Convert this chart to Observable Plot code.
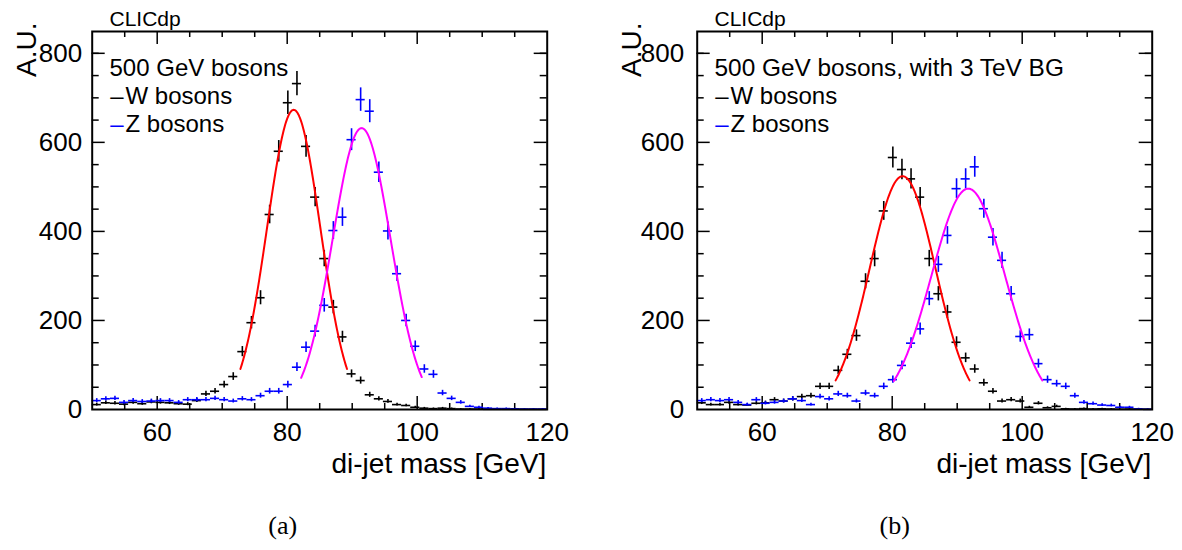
<!DOCTYPE html>
<html><head><meta charset="utf-8">
<script src="https://cdn.jsdelivr.net/npm/d3@7"></script>
<script src="https://cdn.jsdelivr.net/npm/@observablehq/plot@0.6"></script>
<style>
body{margin:0;background:#fff;}
#wrap{display:flex;width:1182px;height:550px;overflow:hidden;}
#wrap svg{display:block;}
</style></head><body><div id="wrap"></div>
<script>
// bin centres (GeV), bin width 1.4 GeV
const binCenters = [50.7,52.1,53.5,54.9,56.3,57.7,59.1,60.5,61.9,63.3,64.7,66.1,67.5,68.9,70.3,71.7,73.1,74.5,75.9,77.3,
  78.7,80.1,81.5,82.9,84.3,85.7,87.1,88.5,89.9,91.3,92.7,94.1,95.5,96.9,98.3,99.7,101.1,102.5,103.9,105.3,
  106.7,108.1,109.5,110.9,112.3,113.7,115.1,116.5,117.9,119.3];
const binWidth = 1.4;

// panel (a): 500 GeV bosons
const aW = [11,15,14,12,16,13,17,16,15,13,12,20,35,41,56,74,130,195,251,438,
  580,689,732,591,477,339,230,163,80,65,33,24,18,11,9,5,3,2,3,2,
  1,1,1,0.5,0.5,0.5,0.5,0.3,0.3,0.3];
const aZ = [20,24,25,16,20,18,19,20,20,16,22,22,22,25,22,19,24,22,31,41,
  41,56,95,140,176,234,402,432,606,696,670,533,401,305,200,142,91,79,37,25,
  16,7,5,3,2,2,1.5,1,1,1];
// panel (b): 500 GeV bosons with 3 TeV background
const bW = [15,11,11,16,11,10,14,15,22,19,24,29,31,52,52,88,124,166,288,339,
  446,566,539,518,477,339,260,219,151,116,91,60,41,19,22,19,5,14,4,7,
  1.5,1,2,1,1.5,1,4,1,1,0.5];
const bZ = [20,22,20,22,16,11,22,14,16,19,24,20,11,29,24,35,31,19,37,31,
  52,67,99,149,181,249,326,391,496,518,545,451,387,335,260,164,168,103,67,58,
  52,31,16,13,10,9,5,5,1.5,0.5];

// Gaussian fits: [amplitude, mean, sigma, from, to]
const aFitW = [673, 81.0, 4.1, 72.8, 89.2];
const aFitZ = [632, 91.45, 4.45, 82.15, 100.7];
const bFitW = [524, 81.6, 5.05, 71.3, 91.9];
const bFitZ = [496, 91.7, 5.66, 80.25, 103.1];

// axis ticks and labels
const xMajor = [60, 80, 100];
const xMinor = [55, 65, 70, 75, 85, 90, 95, 105, 110, 115];
const xLabels = [60, 80, 100, 120];
const yMajor = [200, 400, 600, 800];
const yMinor = [50,100,150,250,300,350,450,500,550,650,700,750,800];
const yLabels = [0, 200, 400, 600, 800];
const xTitle = "di-jet mass [GeV]";
const yTitle = "A.U.";
const tag = "CLICdp";
const legendLabels = ["W bosons", "Z bosons"];
const colors = {W: "#000000", Z: "#0000ff", fitW: "#ff0000", fitZ: "#ff00ff"};

const FONT = "'Liberation Sans', Arial, Helvetica, sans-serif";

function rows(vals) {
  return binCenters.map((x, i) => ({x, v: vals[i], e: Math.sqrt(vals[i])}));
}
function fitCurve(p) {
  const [amp, mean, sigma, from, to] = p;
  const n = 200, pts = [];
  for (let k = 0; k <= n; k++) {
    const x = from + (to - from) * k / n;
    pts.push({x, v: amp * Math.exp(-((x - mean) ** 2) / (2 * sigma * sigma))});
  }
  return pts;
}
function points(data, stroke) {
  return [
    Plot.ruleY(data, {y: "v", x1: d => d.x - binWidth / 2, x2: d => d.x + binWidth / 2, stroke, strokeWidth: 1.6}),
    Plot.ruleX(data, {x: "x", y1: d => d.v - d.e, y2: d => d.v + d.e, stroke, strokeWidth: 1.6})
  ];
}

function panel({W, Z, fitW, fitZ, title, titleSize, caption, marginLeft, marginRight, ytickPad, captionDx}) {
  const fw = 455, fh = 378;
  return Plot.plot({
    width: 591, height: 550,
    marginTop: 31, marginBottom: 141, marginLeft, marginRight,
    style: {fontFamily: FONT, fontSize: "26px", background: "white", color: "black", overflow: "visible"},
    x: {domain: [50, 120]},
    y: {domain: [0, 849]},
    marks: [
      // inward ticks, all four sides
      Plot.tickX(xMajor, {x: d => d, insetTop: fh - 13, strokeWidth: 1.5}),
      Plot.tickX(xMinor, {x: d => d, insetTop: fh - 6, strokeWidth: 1.5}),
      Plot.tickX(xMajor, {x: d => d, insetBottom: fh - 13, strokeWidth: 1.5}),
      Plot.tickX(xMinor, {x: d => d, insetBottom: fh - 6, strokeWidth: 1.5}),
      Plot.tickY(yMajor, {y: d => d, insetRight: fw - 13, strokeWidth: 1.5}),
      Plot.tickY(yMinor, {y: d => d, insetRight: fw - 7, strokeWidth: 1.5}),
      Plot.tickY(yMajor, {y: d => d, insetLeft: fw - 13, strokeWidth: 1.5}),
      Plot.tickY(yMinor, {y: d => d, insetLeft: fw - 7, strokeWidth: 1.5}),
      Plot.axisX({anchor: "bottom", ticks: xLabels, tickSize: 0, tickPadding: 13, label: null, fontSize: 26}),
      Plot.axisY({anchor: "left", ticks: yLabels, tickSize: 0, tickPadding: ytickPad, label: null, fontSize: 26}),
      ...points(rows(W), colors.W),
      ...points(rows(Z), colors.Z),
      Plot.line(fitCurve(fitW), {x: "x", y: "v", stroke: colors.fitW, strokeWidth: 2}),
      Plot.line(fitCurve(fitZ), {x: "x", y: "v", stroke: colors.fitZ, strokeWidth: 2}),
      Plot.frame({strokeWidth: 2}),
      // labels
      Plot.text([tag], {text: d => d, frameAnchor: "top-left", textAnchor: "start", lineAnchor: "bottom", dx: 17.3, dy: -6, fontSize: 21}),
      Plot.text([yTitle], {text: d => d, frameAnchor: "top-left", textAnchor: "end", lineAnchor: "bottom", rotate: -90, dx: -56, dy: -9, fontSize: 28}),
      Plot.text([xTitle], {text: d => d, frameAnchor: "bottom-right", textAnchor: "end", lineAnchor: "bottom", dx: -1, dy: 63, fontSize: 28}),
      // legend
      Plot.text([title], {text: d => d, frameAnchor: "top-left", textAnchor: "start", lineAnchor: "bottom", dx: 17.3, dy: 44, fontSize: titleSize}),
      Plot.text(["\u2013"], {text: d => d, frameAnchor: "top-left", textAnchor: "start", lineAnchor: "bottom", dx: 18, dy: 72, fontSize: 24, fill: colors.W}),
      Plot.text([legendLabels[0]], {text: d => d, frameAnchor: "top-left", textAnchor: "start", lineAnchor: "bottom", dx: 33.3, dy: 72, fontSize: 24}),
      Plot.text(["\u2013"], {text: d => d, frameAnchor: "top-left", textAnchor: "start", lineAnchor: "bottom", dx: 18, dy: 100, fontSize: 24, fill: colors.Z}),
      Plot.text([legendLabels[1]], {text: d => d, frameAnchor: "top-left", textAnchor: "start", lineAnchor: "bottom", dx: 33.3, dy: 100, fontSize: 24}),
      // caption
      Plot.text([caption], {text: d => d, frameAnchor: "bottom", dx: captionDx, dy: 124, fontSize: 26, fontFamily: "'Liberation Serif', 'Times New Roman', serif"})
    ]
  });
}

const wrap = document.getElementById("wrap");
wrap.appendChild(panel({W: aW, Z: aZ, fitW: aFitW, fitZ: aFitZ, title: "500 GeV bosons", titleSize: 24, caption: "(a)",
  marginLeft: 91.7, marginRight: 44.3, ytickPad: 10, captionDx: -37}));
wrap.appendChild(panel({W: bW, Z: bZ, fitW: bFitW, fitZ: bFitZ, title: "500 GeV bosons, with 3 TeV BG", titleSize: 24.4, caption: "(b)",
  marginLeft: 105.7, marginRight: 30.3, ytickPad: 13, captionDx: -30}));
</script></body></html>
